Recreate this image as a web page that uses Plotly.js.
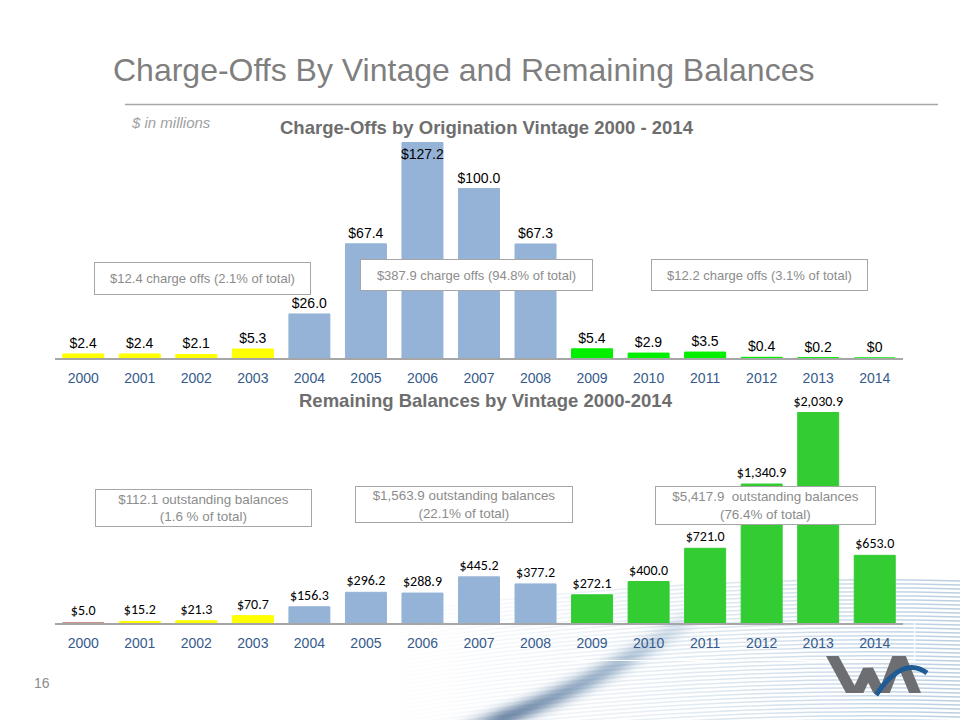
<!DOCTYPE html>
<html>
<head>
<meta charset="utf-8">
<script src="https://cdn.plot.ly/plotly-3.0.1.min.js"></script>
<style>html,body{margin:0;padding:0;background:#fff;}#chart{width:960px;height:720px;}</style>
</head>
<body>
<div id="chart"></div>
<script>
// ---------------- DATA ----------------
const years = ['2000','2001','2002','2003','2004','2005','2006','2007','2008','2009','2010','2011','2012','2013','2014'];
const chargeOffs = [2.4, 2.4, 2.1, 5.3, 26.0, 67.4, 127.2, 100.0, 67.3, 5.4, 2.9, 3.5, 0.4, 0.2, 0];
const chargeOffLabels = ['$2.4','$2.4','$2.1','$5.3','$26.0','$67.4','$127.2','$100.0','$67.3','$5.4','$2.9','$3.5','$0.4','$0.2','$0'];
const balances = [5.0, 15.2, 21.3, 70.7, 156.3, 296.2, 288.9, 445.2, 377.2, 272.1, 400.0, 721.0, 1340.9, 2030.9, 653.0];
const balanceLabels = ['$5.0','$15.2','$21.3','$70.7','$156.3','$296.2','$288.9','$445.2','$377.2','$272.1','$400.0','$721.0','$1,340.9','$2,030.9','$653.0'];
const chargeOffNotes = ['$12.4 charge offs (2.1% of total)','$387.9 charge offs (94.8% of total)','$12.2 charge offs (3.1% of total)'];
const balanceNotes = ['$112.1 outstanding balances<br>(1.6 % of total)','$1,563.9 outstanding balances<br>(22.1% of total)','$5,417.9  outstanding balances<br>(76.4% of total)'];
const mainTitle = 'Charge-Offs By Vintage and Remaining Balances';
const topTitle = 'Charge-Offs by Origination Vintage 2000 - 2014';
const bottomTitle = 'Remaining Balances by Vintage 2000-2014';

// ---------------- STYLES ----------------
const ARIAL = "'Liberation Sans', Arial, sans-serif";
const CALIBRI = "Carlito, Lato, sans-serif";
const YEL='#FFFF00', BLU='#95B3D7', GRN1='#00EE00', GRN2='#33CC33', ROSE='#C8908A';
const chargeOffColors = years.map((y,i)=> i<4?YEL:(i<9?BLU:GRN1));
const balanceColors = years.map((y,i)=> i===0?ROSE:(i<4?YEL:(i<9?BLU:GRN2)));
const topTextPos = chargeOffs.map(v=> v>=127 ? 'inside' : 'outside');

const W=960,H=720;
const px = x=>x/W, py = y=>1-y/H;

// ---------------- BACKGROUND DECOR ----------------
function makeBg(){
  const c=document.createElement('canvas'); c.width=W; c.height=H;
  const g=c.getContext('2d');
  // streaky horizontal lines bottom right
  for(let y=585;y<730;y+=4){
    const grd=g.createLinearGradient(380,0,960,0);
    grd.addColorStop(0,'rgba(160,190,215,0)');
    grd.addColorStop(0.4,'rgba(160,190,215,0.22)');
    grd.addColorStop(1,'rgba(130,165,200,0.55)');
    g.strokeStyle=grd; g.lineWidth=1.6;
    g.beginPath(); g.moveTo(380,y+30); g.quadraticCurveTo(680,y-12,960,y-4); g.stroke();
  }
  // diagonal dark streak
  g.save();
  g.filter='blur(6px)';
  const sg=g.createLinearGradient(440,730,720,600);
  sg.addColorStop(0,'rgba(20,60,110,0.0)');
  sg.addColorStop(0.2,'rgba(20,60,110,0.8)');
  sg.addColorStop(0.6,'rgba(40,90,140,0.5)');
  sg.addColorStop(1,'rgba(60,110,160,0)');
  g.strokeStyle=sg; g.lineWidth=13;
  g.beginPath(); g.moveTo(450,735); g.quadraticCurveTo(580,700,710,605); g.stroke();
  g.restore();
  // faint white frame
  g.strokeStyle='rgba(255,255,255,0.95)'; g.lineWidth=1.2;
  g.beginPath(); g.moveTo(540,660.5); g.lineTo(914.5,660.5); g.lineTo(914.5,622); g.stroke();
  // logo W A
  g.strokeStyle='#6D6E71'; g.lineWidth=11; g.lineJoin='miter'; g.miterLimit=2; g.lineCap='butt';
  g.save(); g.beginPath(); g.rect(815,656,120,37); g.clip();
  g.beginPath(); g.moveTo(829,650); g.lineTo(855,698); g.lineTo(868,670); g.lineTo(882,698); g.lineTo(899,654); g.lineTo(918,700); g.stroke();
  g.restore();
  g.strokeStyle='#1F5C96'; g.lineWidth=5;
  g.beginPath(); g.moveTo(876,695); g.quadraticCurveTo(903,655,927,673); g.stroke();
  return c.toDataURL();
}

// ---------------- TRACES ----------------
const traces = [
  {
    type:'bar', x:years, y:chargeOffs, xaxis:'x', yaxis:'y',
    marker:{color:chargeOffColors, line:{color:chargeOffColors, width:1}},
    text:chargeOffLabels, textposition:topTextPos, insidetextanchor:'end',
    textangle:0, constraintext:'none', cliponaxis:false,
    textfont:{family:ARIAL, size:14, color:'#000'},
    hoverinfo:'skip', showlegend:false
  },
  {
    type:'bar', x:years, y:balances, xaxis:'x2', yaxis:'y2',
    marker:{color:balanceColors, line:{color:balanceColors, width:1}},
    text:balanceLabels, textposition:'outside', textangle:0, constraintext:'none', cliponaxis:false,
    textfont:{family:CALIBRI, size:14, color:'#000'},
    hoverinfo:'skip', showlegend:false
  }
];

const tickFont = {family:ARIAL, size:14, color:'#365A8C'};
const xBase = {type:'category', showgrid:false, zeroline:false, showline:true, linecolor:'#A6A6A6', linewidth:1.5,
  ticks:'', tickfont:tickFont, ticklabelstandoff:7, fixedrange:true, domain:[px(55),px(903)]};

const boxFont = {family:ARIAL, size:13, color:'#8C8C8C'};
function box(text, cx, cy, w, h, size){
  return {text:text, xref:'paper', yref:'paper', x:px(cx), y:py(cy), xanchor:'center', yanchor:'middle',
    showarrow:false, width:w-2, height:h-2, borderpad:0, bordercolor:'#A6A6A6', borderwidth:1,
    bgcolor:'#FFFFFF', font:Object.assign({}, boxFont, size?{size:size}:{}), align:'center'};
}
function txt(text, x, y, font, xanchor){
  return {text:text, xref:'paper', yref:'paper', x:px(x), y:py(y), xanchor:xanchor||'left', yanchor:'middle',
    showarrow:false, font:font};
}

const annotations = [
  txt(mainTitle, 111, 70, {family:ARIAL, size:32, color:'#7F7F7F'}),
  txt('<i>$ in millions</i>', 129, 122, {family:ARIAL, size:15, color:'#A0A0A0'}),
  txt('<b>'+topTitle+'</b>', 487, 127, {family:ARIAL, size:18.5, color:'#6E6E6E'}, 'center'),
  txt('<b>'+bottomTitle+'</b>', 486, 400, {family:ARIAL, size:18.5, color:'#6E6E6E'}, 'center'),
  txt('16', 42, 683, {family:ARIAL, size:14, color:'#8C8C8C'}, 'center'),
  box(chargeOffNotes[0], 202, 278, 217, 33),
  box(chargeOffNotes[1], 476, 275, 233, 32),
  box(chargeOffNotes[2], 759, 275, 217, 32),
  box(balanceNotes[0], 203, 507.5, 217, 38, 13.4),
  box(balanceNotes[1], 463.5, 505, 218, 37, 13.4),
  box(balanceNotes[2], 765, 506, 221, 39, 13.4)
];

const layout = {
  width:W, height:H, margin:{l:0,r:0,t:0,b:0},
  paper_bgcolor:'#FFFFFF', plot_bgcolor:'rgba(0,0,0,0)',
  bargap:0.275, showlegend:false,
  xaxis: Object.assign({}, xBase, {anchor:'y'}),
  yaxis: {domain:[py(358), py(142)], range:[0,127.5], visible:false, fixedrange:true, anchor:'x'},
  xaxis2: Object.assign({}, xBase, {anchor:'y2'}),
  yaxis2: {domain:[py(623), py(395)], range:[0,2200], visible:false, fixedrange:true, anchor:'x2'},
  shapes:[
    {type:'line', xref:'paper', yref:'paper', x0:px(125), x1:px(938), y0:py(104.5), y1:py(104.5), line:{color:'#A6A6A6', width:1.5}}
  ],
  images:[{source:makeBg(), xref:'paper', yref:'paper', x:0, y:1, sizex:1, sizey:1, sizing:'stretch', xanchor:'left', yanchor:'top', layer:'below'}],
  annotations:annotations
};

Plotly.newPlot('chart', traces, layout, {staticPlot:true, displayModeBar:false});
</script>
</body>
</html>
